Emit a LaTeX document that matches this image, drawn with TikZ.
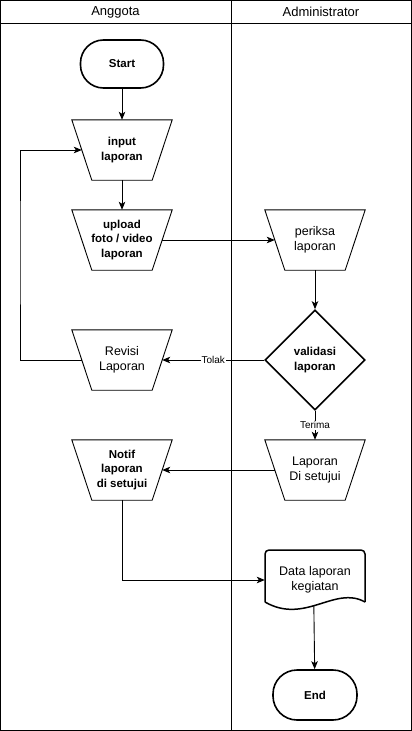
\documentclass[tikz,border=0pt]{standalone}
\usepackage{fontspec}
\setmainfont{Liberation Sans}
\usetikzlibrary{arrows.meta,shapes.geometric}

% outline of an inverted trapezoid drawn around a named box node
\newcommand\trapshape[1]{%
  \draw[outl] (#1.north west) -- (#1.north east) -- ([xshift=-20pt]#1.south east)
    -- ([xshift=20pt]#1.south west) -- cycle;}

\begin{document}
\begin{tikzpicture}[x=1pt,y=-1pt,
  frame/.style={draw, line width=1pt},
  head/.style={font=\fontsize{13}{15}\selectfont},
  term/.style={draw, line width=1.6pt, rounded corners=23pt, minimum width=83pt,
    minimum height=48pt, inner sep=0pt, font=\bfseries\fontsize{11.5}{14.5}\selectfont},
  box/.style={minimum width=100pt, minimum height=60pt, inner sep=0pt, align=center},
  bold/.style={font=\bfseries\fontsize{11.5}{14.5}\selectfont},
  plain/.style={font=\fontsize{12.5}{15}\selectfont},
  outl/.style={draw, line width=0.9pt, line join=miter},
  doc/.style={draw, line width=1.5pt},
  dec/.style={draw, diamond, aspect=1, minimum width=100pt, minimum height=100pt,
    inner sep=0pt, line width=1.6pt, align=center},
  arr/.style={draw, line width=0.9pt, -{Stealth[length=8pt,width=6.5pt,inset=2pt]}},
  tag/.style={fill=white, inner sep=1pt, font=\fontsize{10}{12}\selectfont},
]
\useasboundingbox (0,0) rectangle (412,731);

% swimlanes
\draw[frame] (0.5,0.5) rectangle (411.5,730.5);
\draw[frame] (0.5,23) -- (411.5,23);
\draw[frame] (231,0.5) -- (231,730.5);
\node[head] (laneA) at (115.5,12) {Anggota};
\node[head] (laneB) at (321,12) {Administrator};

% Anggota lane
\node[term] (start) at (122,64) {Start};
\node[box, bold] (input) at (122,150) {input\\laporan};
\node[box, bold] (upload) at (122,240) {upload\\foto / video\\laporan};
\node[box, plain] (revisi) at (122,360) {Revisi\\Laporan};
\node[box, bold] (notif) at (122,470) {Notif\\laporan\\di setujui};
\trapshape{input}
\trapshape{upload}
\trapshape{revisi}
\trapshape{notif}

% Administrator lane
\node[box, plain] (periksa) at (315,240) {periksa\\laporan};
\trapshape{periksa}
\node[dec, bold] (valid) at (315,360) {validasi\\laporan};
\node[box, plain] (lapor) at (315,470) {Laporan\\Di setujui};
\trapshape{lapor}
\node[box, plain] (data) at (315,580) {Data laporan\\kegiatan};
\draw[doc, rounded corners=4pt] (365,602) -- (365,550) -- (265,550) -- (265,602);
\draw[doc] (265,602) .. controls (305,625) and (335,585) .. (365,602)
  coordinate[pos=0.45] (dbot);
\node[term, minimum width=84pt, minimum height=50pt, rounded corners=24pt] (end) at (315,695) {End};

% connectors
\coordinate (lx) at (20,250);
\draw[arr] (start) -- (input);
\draw[arr] (input) -- (upload);
\draw[arr] ([xshift=-10pt]upload.east) -- ([xshift=10pt]periksa.west);
\draw[arr] (periksa) -- (valid);
\draw[arr] (valid) -- node[tag] {Tolak} ([xshift=-10pt]revisi.east);
\draw[arr] ([xshift=10pt]revisi.west) -| (lx) |- ([xshift=10pt]input.west);
\draw[arr] (valid) -- node[tag] {Terima} (lapor);
\draw[arr] ([xshift=10pt]lapor.west) -- ([xshift=-10pt]notif.east);
\draw[arr] (notif.south) |- (data.west);
\draw[arr] (dbot) -- (end);
\end{tikzpicture}
\end{document}
